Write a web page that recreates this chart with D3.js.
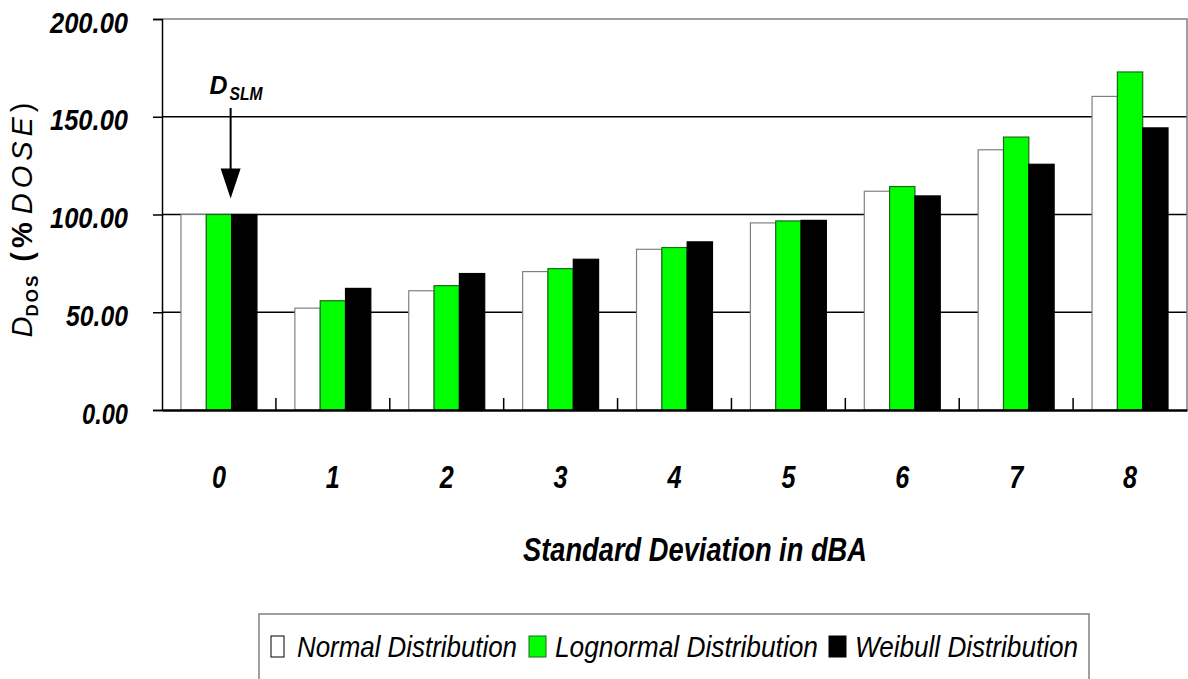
<!DOCTYPE html>
<html>
<head>
<meta charset="utf-8">
<script src="https://cdn.jsdelivr.net/npm/d3@7"></script>
<style>
  body { margin: 0; background: #fff; }
  svg { display: block; }
</style>
</head>
<body>
<div id="chart"></div>
<script>
// data
const categories = ['0', '1', '2', '3', '4', '5', '6', '7', '8'];
const seriesNames = ['Normal Distribution', 'Lognormal Distribution', 'Weibull Distribution'];
const normalValues = [100, 52.1, 61.0, 70.8, 82.2, 95.7, 111.9, 133.1, 160.4];
const lognormalValues = [100, 55.9, 63.6, 72.3, 83.1, 96.7, 114.3, 139.6, 172.9];
const weibullValues = [100, 62.2, 69.8, 77.1, 86.0, 97.0, 109.5, 125.7, 144.3];
const yTicks = [0, 50, 100, 150, 200];

const colors = ['#ffffff', '#00ff00', '#000000'];
const strokes = ['#808080', '#1a6a1a', '#000000'];

const W = 1188, H = 679;
const margin = { top: 19, right: 1, bottom: 269, left: 162 };
const width = W - margin.left - margin.right;
const height = H - margin.top - margin.bottom;

const condensed = '"Liberation Sans Narrow", "Arial Narrow", "Liberation Sans", Arial, sans-serif';

const svg = d3.select('#chart').append('svg')
    .attr('width', W)
    .attr('height', H);

const plot = svg.append('g')
    .attr('transform', `translate(${margin.left},${margin.top})`);

// scales
const x0 = d3.scaleBand()
    .domain(categories)
    .range([0, width])
    .paddingInner(0.333)
    .paddingOuter(0.1667);

const x1 = d3.scaleBand()
    .domain(seriesNames)
    .range([0, x0.bandwidth()]);

const y = d3.scaleLinear()
    .domain([0, 200])
    .range([height, 0]);

const table = categories.map((c, i) => ({
    cat: c,
    values: [normalValues[i], lognormalValues[i], weibullValues[i]]
}));

// gridlines
plot.append('g')
    .selectAll('line')
    .data(yTicks.filter(t => t > 0 && t < 200))
    .enter().append('line')
    .attr('x1', 0).attr('x2', width)
    .attr('y1', d => y(d)).attr('y2', d => y(d))
    .attr('stroke', '#000')
    .attr('stroke-width', 1.5);

// plot border (top and right are grey)
plot.append('path')
    .attr('d', `M0,${y(200)} H${width} V${height}`)
    .attr('fill', 'none')
    .attr('stroke', '#808080')
    .attr('stroke-width', 1.5);

// bars
const groups = plot.selectAll('g.grp')
    .data(table)
    .enter().append('g')
    .attr('class', 'grp')
    .attr('transform', d => `translate(${x0(d.cat)},0)`);

groups.selectAll('rect')
    .data(d => d.values.map((v, i) => ({ key: seriesNames[i], v: v, i: i })))
    .enter().append('rect')
    .attr('x', d => x1(d.key))
    .attr('width', x1.bandwidth())
    .attr('y', d => y(d.v))
    .attr('height', d => y(0) - y(d.v))
    .attr('fill', d => colors[d.i])
    .attr('stroke', d => strokes[d.i])
    .attr('stroke-width', 1.2);

// y axis
const fmt = d3.format('.2f');
const yAxis = plot.append('g')
    .call(d3.axisLeft(y).tickValues(yTicks).tickSize(9).tickPadding(25)
        .tickFormat(fmt));
yAxis.select('.domain').attr('stroke', '#000').attr('stroke-width', 1.5);
yAxis.selectAll('.tick line').attr('stroke', '#000').attr('stroke-width', 1.5);
yAxis.selectAll('.tick text')
    // condensed look: squeeze each label to ~16px per digit
    .attr('textLength', d => (fmt(d).length - 1) * 16 - 2)
    .attr('lengthAdjust', 'spacingAndGlyphs')
    .attr('dy', '0.45em')
    .style('font-family', condensed)
    .style('font-weight', 'bold')
    .style('font-style', 'italic')
    .style('font-size', '29px')
    .attr('fill', '#000');

// x axis
const xAxis = plot.append('g')
    .attr('transform', `translate(0,${height})`)
    .call(d3.axisBottom(x0).tickSize(0).tickPadding(55));
xAxis.select('.domain').attr('stroke', '#000').attr('stroke-width', 2.5);
xAxis.selectAll('.tick text')
    .attr('textLength', 14)
    .attr('lengthAdjust', 'spacingAndGlyphs')
    .style('font-family', condensed)
    .style('font-weight', 'bold')
    .style('font-style', 'italic')
    .style('font-size', '32px')
    .attr('fill', '#000');

// small category-boundary ticks pointing up
plot.append('g')
    .selectAll('line')
    .data(categories.slice(1))
    .enter().append('line')
    .attr('x1', d => x0(d) - x0.step() * x0.paddingInner() / 2)
    .attr('x2', d => x0(d) - x0.step() * x0.paddingInner() / 2)
    .attr('y1', height)
    .attr('y2', height - 12)
    .attr('stroke', '#000')
    .attr('stroke-width', 1.5);

// x title
svg.append('text')
    .attr('x', 695)
    .attr('y', 561)
    .attr('text-anchor', 'middle')
    .attr('textLength', 344)
    .attr('lengthAdjust', 'spacingAndGlyphs')
    .style('font-family', condensed)
    .style('font-weight', 'bold')
    .style('font-style', 'italic')
    .style('font-size', '34px')
    .text('Standard Deviation in dBA');

// y title: D_DOS (% DOSE)
const yTitle = svg.append('text')
    .attr('transform', 'translate(32,220) rotate(-90)')
    .attr('text-anchor', 'middle')
    .style('font-family', '"Liberation Sans", Arial, sans-serif')
    .style('font-size', '29px');
yTitle.append('tspan').style('font-style', 'italic').text('D');
yTitle.append('tspan').attr('dy', 6).style('font-size', '17px')
    .style('font-weight', 'bold').attr('letter-spacing', 2).text('DOS');
yTitle.append('tspan').attr('dy', -6).attr('dx', 12).style('font-weight', 'bold')
    .attr('letter-spacing', 4).text('(%');
yTitle.append('tspan').attr('dx', 4).style('font-style', 'italic')
    .attr('letter-spacing', 5).text('DOSE');
yTitle.append('tspan').text(')');

// D_SLM annotation with arrow
const arrowX = margin.left + x0('0') + x1('Lognormal Distribution') + x1.bandwidth() - 1;
const ann = svg.append('text')
    .attr('x', arrowX - 21)
    .attr('y', 94)
    .style('font-family', condensed)
    .style('font-weight', 'bold')
    .style('font-style', 'italic')
    .style('font-size', '25px');
ann.append('tspan').attr('textLength', 18).attr('lengthAdjust', 'spacingAndGlyphs').text('D');
ann.append('tspan').attr('dy', 6).attr('dx', 2).attr('textLength', 33)
    .attr('lengthAdjust', 'spacingAndGlyphs').style('font-size', '19px').text('SLM');

const tipY = margin.top + y(100) - 16;
svg.append('line')
    .attr('x1', arrowX).attr('x2', arrowX)
    .attr('y1', 108).attr('y2', tipY - 25)
    .attr('stroke', '#000').attr('stroke-width', 2);
svg.append('path')
    .attr('d', `M${arrowX - 10},${tipY - 30} L${arrowX + 10},${tipY - 30} L${arrowX},${tipY} Z`)
    .attr('fill', '#000');

// legend
const legend = svg.append('g');
legend.append('rect')
    .attr('x', 259).attr('y', 614)
    .attr('width', 830).attr('height', 80)
    .attr('fill', '#fff')
    .attr('stroke', '#808080')
    .attr('stroke-width', 1.5);

const legendSwatchX = [271, 529, 829];
const legendSwatchW = [13, 17, 17];
const legendTextX = [297, 555, 855];
const legendTextW = [220, 263, 223];

seriesNames.forEach((name, i) => {
    legend.append('rect')
        .attr('x', legendSwatchX[i]).attr('y', 636)
        .attr('width', legendSwatchW[i]).attr('height', 21)
        .attr('fill', colors[i])
        .attr('stroke', i === 1 ? '#1a6a1a' : '#000')
        .attr('stroke-width', 1);
    legend.append('text')
        .attr('x', legendTextX[i]).attr('y', 657)
        .attr('textLength', legendTextW[i])
        .attr('lengthAdjust', 'spacingAndGlyphs')
        .style('font-family', condensed)
        .style('font-style', 'italic')
        .style('font-size', '30px')
        .text(name);
});
</script>
</body>
</html>
